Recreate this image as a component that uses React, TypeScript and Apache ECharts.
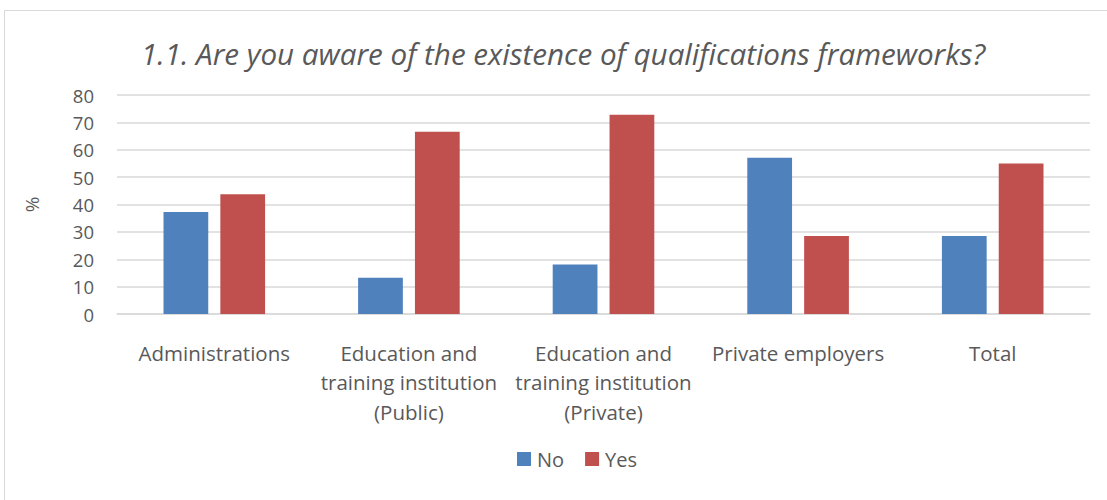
import React, { useEffect, useRef } from "react";
import * as echarts from "echarts";

const categories = [
  "Administrations",
  "Education and\ntraining institution\n(Public)",
  "Education and\ntraining institution\n(Private)",
  "Private employers",
  "Total",
];
const noValues = [37.3, 13.2, 18.1, 57.1, 28.5];
const yesValues = [43.7, 66.6, 72.8, 28.5, 55.0];
const titleText = "1.1. Are you aware of the existence of qualifications frameworks?";
const FONT = "'Open Sans', sans-serif";

export default function App() {
  const ref = useRef<HTMLDivElement>(null);
  useEffect(() => {
    const chart = echarts.init(ref.current!, null, { renderer: "svg" });
    chart.setOption({
      animation: false,
      backgroundColor: "#ffffff",
      title: {
        text: titleText,
        left: 558,
        textAlign: "center",
        top: 33,
        textStyle: { fontFamily: FONT, fontStyle: "italic", fontWeight: "normal", fontSize: 29.6, color: "#595959" },
      },
      graphic: [
        {
          type: "rect",
          shape: { x: 4.5, y: 10.5, width: 1110, height: 500 },
          style: { fill: "none", stroke: "#d9d9d9", lineWidth: 1 },
          silent: true,
        },
      ],
      legend: {
        data: ["No", "Yes"],
        left: 512,
        top: 444,
        icon: "rect",
        itemWidth: 14,
        itemHeight: 14,
        itemGap: 21,
        textStyle: { fontFamily: FONT, fontSize: 20, color: "#595959", padding: [0, 0, 0, 1] },
      },
      grid: { left: 117, right: 17, top: 95, bottom: 186, containLabel: false },
      xAxis: {
        type: "category",
        data: categories,
        axisLine: { lineStyle: { color: "#d9d9d9", width: 1.5 } },
        axisTick: { show: false },
        axisLabel: {
          fontFamily: FONT,
          fontSize: 20.5,
          color: "#595959",
          margin: 24,
          lineHeight: 29.5,
          interval: 0,
        },
      },
      yAxis: {
        type: "value",
        min: 0,
        max: 80,
        interval: 10,
        name: "%",
        nameLocation: "middle",
        nameGap: 76,
        nameRotate: 90,
        nameTextStyle: { fontFamily: FONT, fontSize: 19, color: "#595959" },
        axisLine: { show: false },
        axisTick: { show: false },
        axisLabel: { fontFamily: FONT, fontSize: 18.5, color: "#595959", margin: 23 },
        splitLine: { lineStyle: { color: "#d9d9d9", width: 1.5 } },
      },
      series: [
        {
          name: "No",
          type: "bar",
          data: noValues,
          barWidth: "23%",
          barGap: "27%",
          itemStyle: { color: "#4f81bd" },
        },
        {
          name: "Yes",
          type: "bar",
          data: yesValues,
          barWidth: "23%",
          itemStyle: { color: "#c0504d" },
        },
      ],
    });
    return () => chart.dispose();
  }, []);
  return (
    <div
      ref={ref}
      style={{ position: "fixed", left: 0, top: 0, width: 1107, height: 500 }}
    />
  );
}
